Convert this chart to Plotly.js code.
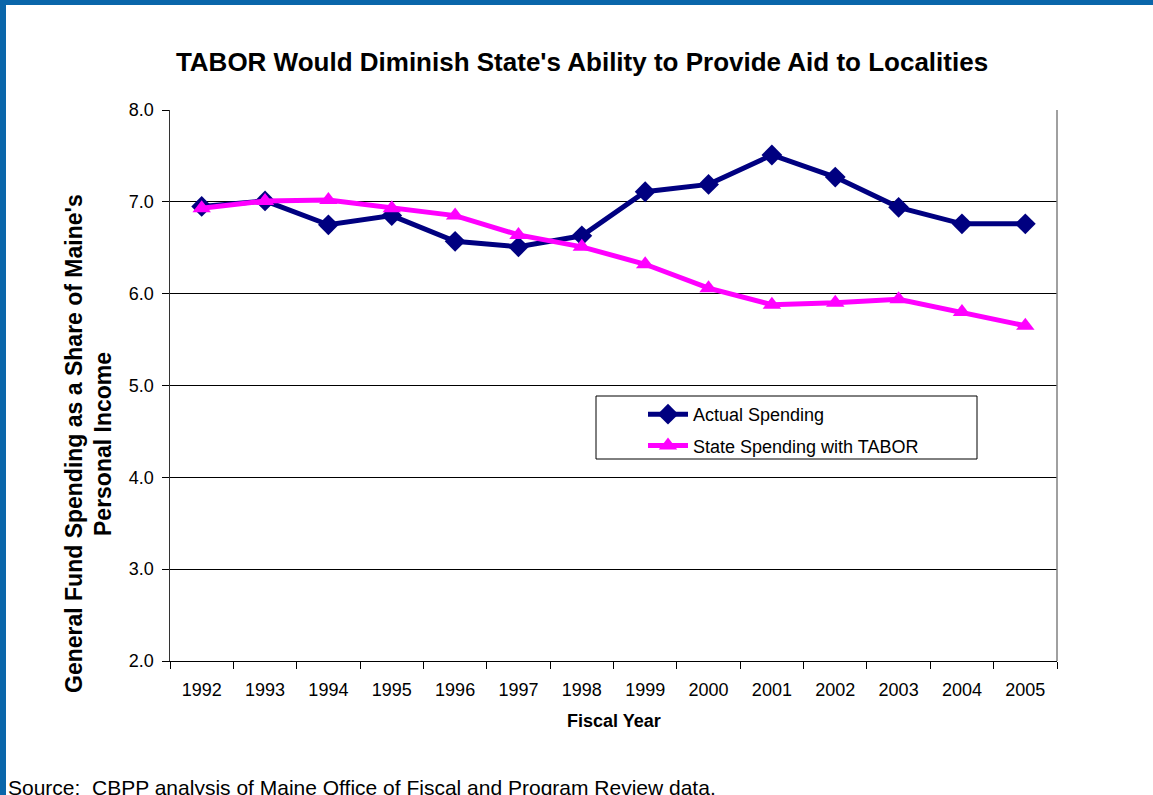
<!DOCTYPE html>
<html>
<head>
<meta charset="utf-8">
<script src="https://cdn.plot.ly/plotly-3.0.1.min.js"></script>
<style>
html,body{margin:0;padding:0;background:#fff;}
#chart{width:1153px;height:795px;}
</style>
</head>
<body>
<div id="chart"></div>
<script>
const years = ['1992','1993','1994','1995','1996','1997','1998','1999','2000','2001','2002','2003','2004','2005'];
const actualSpending = [6.95, 7.01, 6.75, 6.85, 6.57, 6.51, 6.63, 7.11, 7.19, 7.51, 7.27, 6.94, 6.76, 6.76];
const taborSpending = [6.93, 7.01, 7.02, 6.93, 6.85, 6.64, 6.51, 6.32, 6.06, 5.88, 5.90, 5.94, 5.80, 5.65];
const yTicks = [2, 3, 4, 5, 6, 7, 8];

const W = 1153, H = 795;
const L = 170, R = 1057, T = 110, B = 661;
const pw = R - L, ph = B - T;
const px = x => (x - L) / pw;
const py = y => (B - y) / ph;

const traces = [
  {
    x: years, y: actualSpending, name: 'Actual Spending', type: 'scatter', mode: 'lines+markers',
    line: {color: '#000080', width: 5},
    marker: {symbol: 'diamond', size: 16, color: '#000080'},
    legendgroup: 'a'
  },
  {
    x: years, y: taborSpending, name: 'State Spending with TABOR', type: 'scatter', mode: 'lines+markers',
    line: {color: '#FF00FF', width: 5},
    marker: {symbol: 'triangle-up', size: 16, color: '#FF00FF'},
    legendgroup: 'b'
  }
];

const layout = {
  width: W, height: H,
  margin: {l: L, r: W - R, t: T, b: H - B},
  paper_bgcolor: '#fff', plot_bgcolor: '#fff',
  font: {family: 'Liberation Sans, Arial, sans-serif', color: '#000'},
  title: {
    text: "<b>TABOR Would Diminish State's Ability to Provide Aid to Localities</b>",
    font: {size: 26, color: '#000'},
    xref: 'container', x: 582 / W, xanchor: 'center',
    yref: 'container', y: 1 - 62 / H, yanchor: 'middle'
  },
  showlegend: true,
  legend: {
    x: px(643), y: py(396), xanchor: 'left', yanchor: 'top',
    bgcolor: 'rgba(0,0,0,0)', borderwidth: 0,
    font: {size: 18, color: '#000'},
    itemwidth: 40,
    traceorder: 'grouped', tracegroupgap: 5
  },
  xaxis: {
    type: 'category', range: [-0.5, 13.5],
    tickson: 'boundaries', ticks: 'outside', ticklen: 7, tickcolor: '#000',
    showline: true, linecolor: '#000', linewidth: 1,
    showgrid: false, zeroline: false,
    tickfont: {size: 18, color: '#000'},
    ticklabelstandoff: 12,
    fixedrange: true
  },
  yaxis: {
    range: [2, 8], tickvals: yTicks, tickformat: '.1f',
    ticks: 'outside', ticklen: 7, tickcolor: '#000',
    showline: true, linecolor: '#333', linewidth: 1.5,
    showgrid: true, gridcolor: '#000', gridwidth: 1,
    zeroline: false,
    tickfont: {size: 18, color: '#000'},
    ticklabelstandoff: 4,
    fixedrange: true
  },
  shapes: [
    {type: 'line', xref: 'paper', yref: 'paper', x0: 1, x1: 1, y0: 0, y1: 1, line: {color: '#808080', width: 1.5}},
    {type: 'rect', xref: 'paper', yref: 'paper', x0: px(596), x1: px(977), y0: py(459), y1: py(396), line: {color: '#000', width: 1}, fillcolor: 'rgba(255,255,255,0)'},
    {type: 'rect', xref: 'paper', yref: 'paper', x0: px(0), x1: px(W), y0: py(0), y1: py(5), line: {width: 0}, fillcolor: '#0A66AA'},
    {type: 'rect', xref: 'paper', yref: 'paper', x0: px(0), x1: px(6), y0: py(H), y1: py(0), line: {width: 0}, fillcolor: '#0A66AA'}
  ],
  annotations: [
    {text: "<b>General Fund Spending as a Share of Maine's</b>", xref: 'paper', yref: 'paper',
     x: px(74), y: py(444), textangle: -90, showarrow: false, font: {size: 23, color: '#000'},
     xanchor: 'center', yanchor: 'middle'},
    {text: "<b>Personal Income</b>", xref: 'paper', yref: 'paper',
     x: px(103), y: py(444), textangle: -90, showarrow: false, font: {size: 23, color: '#000'},
     xanchor: 'center', yanchor: 'middle'},
    {text: "<b>Fiscal Year</b>", xref: 'paper', yref: 'paper',
     x: px(614), y: py(721), showarrow: false, font: {size: 18, color: '#000'},
     xanchor: 'center', yanchor: 'middle'},
    {text: "Source:  CBPP analysis of Maine Office of Fiscal and Program Review data.", xref: 'paper', yref: 'paper',
     x: px(6), y: py(787), showarrow: false, font: {size: 21, color: '#000'},
     xanchor: 'left', yanchor: 'middle'}
  ]
};

Plotly.newPlot('chart', traces, layout, {displayModeBar: false, staticPlot: true});
</script>
</body>
</html>
